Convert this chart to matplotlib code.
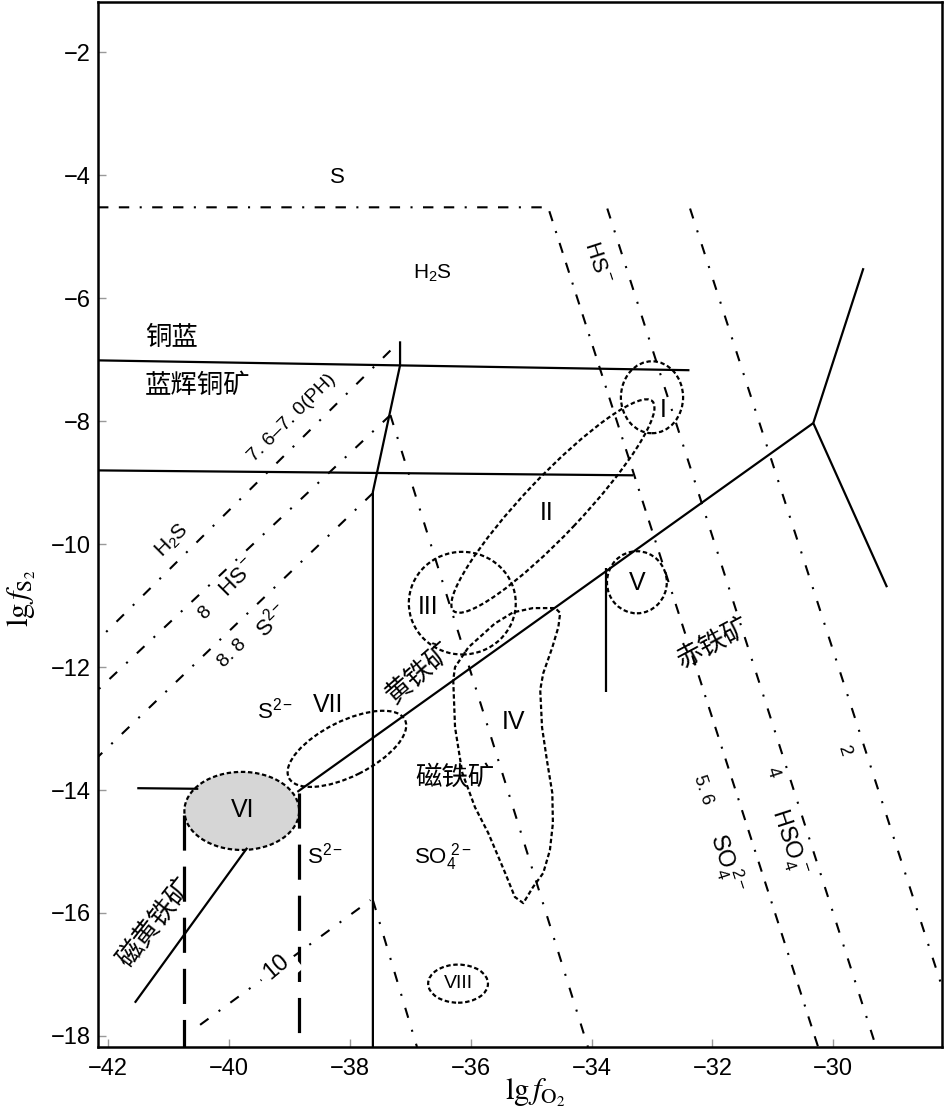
import matplotlib
matplotlib.use('Agg')
import matplotlib.pyplot as plt
from matplotlib.patches import Ellipse, Polygon

plt.rcParams['font.family'] = ['Liberation Sans', 'Noto Sans CJK SC', 'Noto Sans CJK JP',
                               'DejaVu Sans']
plt.rcParams['mathtext.fontset'] = 'stix'

# ------------------------------------------------------------------
#   boundary lines  (x = lg fO2, y = lg fS2)
# ------------------------------------------------------------------
# S / H2S boundary, bending into the SO4/HSO4 line (5.6)
s_x = [-42.17, -34.72, -30.25]
s_y = [-4.52, -4.52, -18.18]
# pH 4 and pH 2 lines on the right
ph4_x = [-33.74, -29.29]
ph4_y = [-4.54, -18.18]
ph2_x = [-32.37, -28.20]
ph2_y = [-4.54, -17.20]
# H2S / HS- / S2- lines on the left (7.6-7.0, 8, 8.8)
ph76_x = [-37.33, -42.17]
ph76_y = [-6.85, -11.56]
ph8_x = [-37.33, -42.17]
ph8_y = [-7.90, -12.37]
ph88_x = [-37.62, -42.17]
ph88_y = [-9.17, -13.46]
# line through the magnetite field
mt_x = [-37.33, -34.06]
mt_y = [-7.90, -18.18]
# pH 10 line and its continuation
ph10_x = [-40.48, -37.66]
ph10_y = [-17.82, -15.79]
ph10m_x = [-37.62, -36.89]
ph10m_y = [-15.79, -18.18]

# mineral boundaries (solid)
cv_x = [-42.17, -32.38]
cv_y = [-7.01, -7.17]
dg_x = [-42.17, -33.31]
dg_y = [-8.80, -8.88]
cu_x = [-37.17, -37.17, -37.62, -37.62]
cu_y = [-6.70, -7.09, -9.15, -18.18]
py_x = [-38.87, -30.33]
py_y = [-14.03, -8.03]
hm_up_x = [-30.33, -29.50]
hm_up_y = [-8.03, -5.51]
hm_dn_x = [-30.33, -29.11]
hm_dn_y = [-8.03, -10.70]
v_x = [-33.76, -33.76]
v_y = [-10.39, -12.41]
po_x = [-41.56, -39.70]
po_y = [-17.46, -14.94]
poh_x = [-41.52, -40.51]
poh_y = [-13.97, -13.98]
# long dashed verticals
ld_x = [-40.75, -38.84]
ld_top = [-14.41, -14.05]
ld_bot = -18.18

# sample zones (ellipses)
zone_cx = [-33.00, -34.64, -36.14, -33.25, -39.79, -38.05, -36.21]
zone_cy = [-7.61, -9.38, -10.96, -10.62, -14.34, -13.33, -17.15]
zone_w = [1.03, 4.74, 1.77, 0.99, 1.90, 2.14, 0.99]
zone_h = [1.17, 0.95, 1.67, 1.01, 1.27, 0.90, 0.62]
zone_ang = [0, 46, 0, 0, 0, 26, 0]
zone_fill = [False, False, False, False, True, False, False]

# zone IV outline
iv_x = [-36.29, -36.26, -36.14, -35.93, -35.71, -35.43, -35.27, -35.13, -34.97,
        -34.80, -34.69, -34.64, -34.65, -34.74, -34.82, -34.85, -34.80, -34.65,
        -34.55, -34.52, -34.60, -34.97, -35.30, -35.60, -36.04, -36.26]
iv_y = [-12.21, -12.98, -13.72, -14.28, -14.70, -15.35, -15.74, -15.84, -15.58,
        -15.35, -14.98, -14.54, -14.05, -13.51, -12.98, -12.37, -12.10, -11.68,
        -11.35, -11.12, -11.04, -11.04, -11.11, -11.29, -11.68, -12.00]

# text labels: text, x, y, rotation, size
lab_text = ['S', r'$\mathregular{H_2S}$', '铜蓝', '蓝辉铜矿', r'$\mathregular{HS^-}$',
            '7. 6–7. 0(PH)', r'$\mathregular{H_2S}$', r'$\mathregular{HS^-}$', '8',
            r'$\mathregular{S^{2-}}$', '8. 8', r'$\mathregular{S^{2-}}$', 'VII', '黄铁矿',
            '磁铁矿', 'IV', 'III', 'II', 'I', 'V', 'VI', r'$\mathregular{S^{2-}}$',
            r'$\mathregular{SO_4^{\ 2-}}$', '磁黄铁矿', '10', 'VIII', '赤铁矿', '5. 6',
            '4', '2', r'$\mathregular{SO_4^{\ 2-}}$', r'$\mathregular{HSO_4^{\ -}}$']
lab_x = [-38.20, -36.64, -41.39, -41.39, -33.91, -38.96, -40.94, -39.85, -40.40,
         -39.29, -39.95, -39.24, -38.36, -36.85, -36.26, -35.30, -36.71, -34.74,
         -32.82, -33.25, -39.77, -38.41, -36.47, -41.23, -39.21, -36.21, -31.99,
         -32.15, -31.01, -29.83, -31.76, -30.75]
lab_y = [-4.03, -5.59, -6.65, -7.42, -5.42, -7.94, -9.94, -10.55, -11.12,
         -11.24, -11.77, -12.70, -12.62, -12.10, -13.79, -12.89, -11.02, -9.50,
         -7.82, -10.63, -14.33, -15.06, -15.09, -16.15, -16.88, -17.15, -11.61,
         -14.00, -13.72, -13.35, -15.19, -14.86]
lab_rot = [0, 0, 0, 0, -72, 45, 45, 45, 45, 45, 45, 0, 0, 41, 0, 0, 0, 0,
           0, 0, 0, 0, 0, 52, 40, 0, 28, -72, -72, -72, -72, -72]
lab_size = [16, 15, 19, 19, 16, 14, 15, 16, 14, 16, 14, 16, 18, 19, 19, 18, 18, 18,
            18, 18, 18, 16, 16, 19, 17, 14, 19, 13, 13, 13, 17, 17]

# ------------------------------------------------------------------
fig = plt.figure(figsize=(9.45, 11.17), dpi=100)
ax = fig.add_axes([0.1037, 0.0627, 0.8931, 0.9355])

dashdot = (0, (5, 6, 1, 6))
ax.plot(s_x, s_y, color='k', lw=1.5, ls=(0, (5, 5, 5, 5, 1, 5)))
for xs, ys in [(ph4_x, ph4_y), (ph2_x, ph2_y), (ph76_x, ph76_y), (ph8_x, ph8_y),
               (ph88_x, ph88_y), (mt_x, mt_y), (ph10_x, ph10_y), (ph10m_x, ph10m_y)]:
    ax.plot(xs, ys, color='k', lw=1.5, ls=dashdot)

for xs, ys in [(cv_x, cv_y), (dg_x, dg_y), (cu_x, cu_y), (py_x, py_y), (hm_up_x, hm_up_y),
               (hm_dn_x, hm_dn_y), (v_x, v_y), (po_x, po_y), (poh_x, poh_y)]:
    ax.plot(xs, ys, color='k', lw=1.6, solid_capstyle='butt')

for x0, y0 in zip(ld_x, ld_top):
    ax.plot([x0, x0], [y0, ld_bot], color='k', lw=2.3, ls=(0, (11, 5)))

for cx, cy, w, h, a, f in zip(zone_cx, zone_cy, zone_w, zone_h, zone_ang, zone_fill):
    e = Ellipse((cx, cy), w, h, angle=a, fill=f, facecolor='#d6d6d6', edgecolor='k',
                lw=1.6, ls=(0, (2, 1.2)), zorder=3 if not f else 1)
    ax.add_patch(e)

ax.add_patch(Polygon(list(zip(iv_x, iv_y)), closed=True, fill=False, edgecolor='k',
                     lw=1.6, ls=(0, (2, 1.2)), joinstyle='round'))

for t, x, y, r, s in zip(lab_text, lab_x, lab_y, lab_rot, lab_size):
    bb = dict(facecolor='white', edgecolor='none', pad=5) if t == '10' else None
    ax.text(x, y, t, rotation=r, fontsize=s, ha='left' if t in ('铜蓝', '蓝辉铜矿') else 'center',
            va='center', rotation_mode='anchor', zorder=5, bbox=bb)

ax.set_xlim(-42.17, -28.20)
ax.set_ylim(-18.18, -1.18)
ax.set_xticks(range(-42, -29, 2))
ax.set_yticks(range(-18, -1, 2))
ax.tick_params(direction='in', length=6, width=1, color='#999999', labelsize=17)
ax.tick_params(axis='x', pad=8)
ax.tick_params(axis='y', pad=5)
for sp in ax.spines.values():
    sp.set_linewidth(1.8)

fig.text(535 / 945, 1 - 1093 / 1117, r'$\mathrm{lg}\,f_{\mathrm{O_2}}$', fontsize=22,
         ha='center', va='center')
fig.text(22 / 945, 1 - 598 / 1117, r'$\mathrm{lg}\,f_{\mathrm{S_2}}$', fontsize=22,
         ha='center', va='center', rotation=90)

plt.savefig('out.png', dpi=100)
